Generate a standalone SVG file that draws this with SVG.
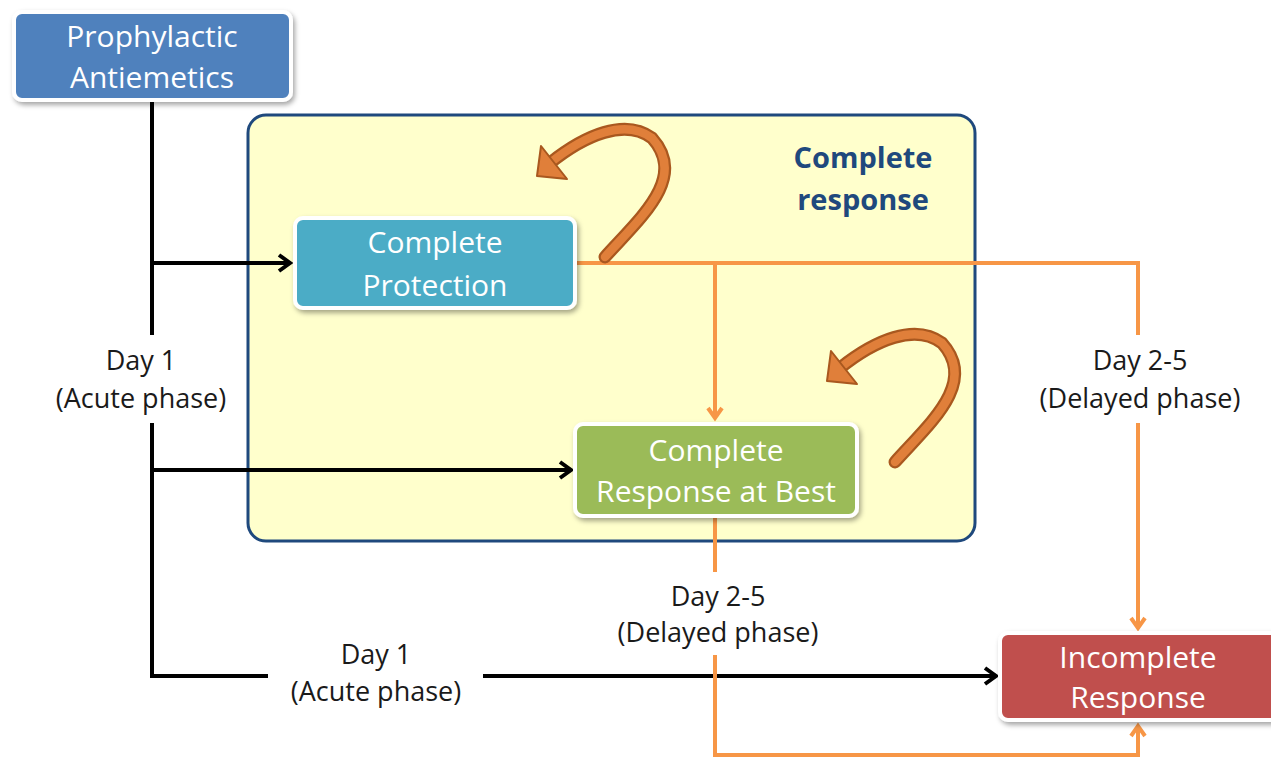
<svg xmlns="http://www.w3.org/2000/svg" xmlns:xlink="http://www.w3.org/1999/xlink" width="1271" height="758" viewBox="0 0 1271 758">
<style>
.box{stroke:#fff;stroke-width:4}
.bt{font-family:"Open Sans","Liberation Sans",sans-serif;font-size:30px;fill:#fff;text-anchor:middle}
.lb{font-family:"Open Sans","Liberation Sans",sans-serif;font-size:27px;fill:#1a1a1a;text-anchor:middle}
.blk{fill:none;stroke:#000;stroke-width:4}
.org{fill:none;stroke:#F79646;stroke-width:4}
</style>
<defs>
<filter id="sh" x="-10%" y="-10%" width="125%" height="130%">
<feDropShadow dx="2" dy="3" stdDeviation="2.5" flood-color="#000" flood-opacity="0.35"/>
</filter>
<marker id="ab" markerUnits="userSpaceOnUse" markerWidth="24" markerHeight="24" viewBox="-16 -12 20 24" refX="0" refY="0" orient="auto">
<path d="M-11,-8 L0,0 L-11,8" fill="none" stroke="#000" stroke-width="4"/>
</marker>
<marker id="ao" markerUnits="userSpaceOnUse" markerWidth="24" markerHeight="24" viewBox="-16 -12 20 24" refX="0" refY="0" orient="auto">
<path d="M-10,-7 L0,0 L-10,7" fill="none" stroke="#F79646" stroke-width="4"/>
</marker>
<g id="loop">
<path d="M605,257 C640,218 688,178 652,138 C625,118 585,135 550,163" fill="none" stroke="#A9581F" stroke-width="13" stroke-linecap="round"/>
<path d="M605,257 C640,218 688,178 652,138 C625,118 585,135 550,163" fill="none" stroke="#E07F3A" stroke-width="8.5" stroke-linecap="round"/>
<polygon points="537,176 541,146 567,179" fill="#E07F3A" stroke="#A9581F" stroke-width="2" stroke-linejoin="round"/>
</g>
</defs>
<rect width="1271" height="758" fill="#fff"/>

<g id="complete-response-region">
<rect x="248" y="115" width="727" height="426" rx="18" fill="#FFFFCC" stroke="#1F497D" stroke-width="3"/>
<text x="863" y="168" font-family="'Open Sans','Liberation Sans',sans-serif" font-size="29" font-weight="bold" fill="#1F497D" text-anchor="middle">Complete</text>
<text x="863" y="210" font-family="'Open Sans','Liberation Sans',sans-serif" font-size="29" font-weight="bold" fill="#1F497D" text-anchor="middle">response</text>
</g>

<g id="connectors">
<polyline class="blk" points="152,100 152,335"/>
<polyline class="blk" points="152,423 152,676 268,676"/>
<line class="blk" x1="152" y1="263" x2="290" y2="263" marker-end="url(#ab)"/>
<line class="blk" x1="152" y1="470" x2="571" y2="470" marker-end="url(#ab)"/>
<line class="blk" x1="483" y1="676" x2="996" y2="676" marker-end="url(#ab)"/>
<polyline class="org" points="576,263 1138,263 1138,335"/>
<line class="org" x1="1138" y1="423" x2="1138" y2="628" marker-end="url(#ao)"/>
<line class="org" x1="715" y1="263" x2="715" y2="418" marker-end="url(#ao)"/>
<line class="org" x1="715" y1="518" x2="715" y2="572"/>
<polyline class="org" points="715,655 715,755 1138,755 1138,726" marker-end="url(#ao)"/>
<use xlink:href="#loop"/>
<use xlink:href="#loop" transform="translate(290,205)"/>
<text class="lb" x="141" y="370">Day 1</text>
<text class="lb" x="141" y="408">(Acute phase)</text>
<text class="lb" x="376" y="664">Day 1</text>
<text class="lb" x="376" y="701">(Acute phase)</text>
<text class="lb" x="718" y="606">Day 2-5</text>
<text class="lb" x="718" y="642">(Delayed phase)</text>
<text class="lb" x="1140" y="370">Day 2-5</text>
<text class="lb" x="1140" y="408">(Delayed phase)</text>
</g>

<g id="prophylactic-antiemetics">
<rect class="box" x="14" y="12" width="277" height="88" rx="8" fill="#4F81BD" filter="url(#sh)"/>
<text class="bt" x="152" y="47">Prophylactic</text>
<text class="bt" x="152" y="88">Antiemetics</text>
</g>

<g id="complete-protection">
<rect class="box" x="295" y="218" width="280" height="90" rx="8" fill="#4BACC6" filter="url(#sh)"/>
<text class="bt" x="435" y="253">Complete</text>
<text class="bt" x="435" y="296">Protection</text>
</g>

<g id="complete-response-at-best">
<rect class="box" x="575" y="424" width="282" height="92" rx="8" fill="#9BBB59" filter="url(#sh)"/>
<text class="bt" x="716" y="461">Complete</text>
<text class="bt" x="716" y="502">Response at Best</text>
</g>

<g id="incomplete-response">
<rect class="box" x="1000" y="633" width="285" height="87" rx="8" fill="#C0504D" filter="url(#sh)"/>
<text class="bt" x="1138" y="668">Incomplete</text>
<text class="bt" x="1138" y="708">Response</text>
</g>
</svg>
